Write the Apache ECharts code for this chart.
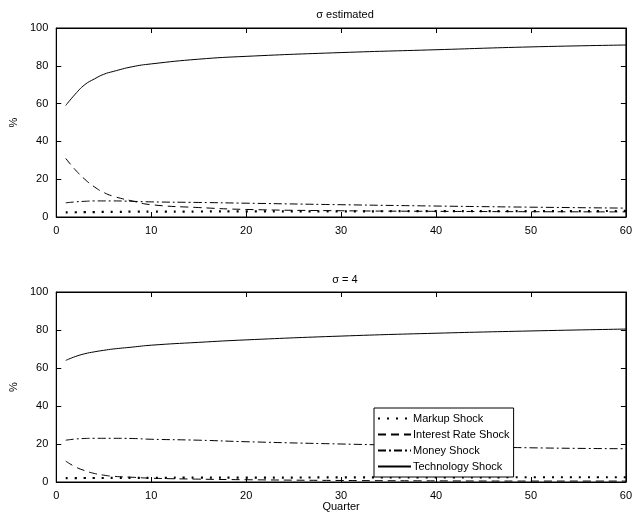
<!DOCTYPE html>
<html>
<head>
<meta charset="utf-8">
<script src="https://cdn.jsdelivr.net/npm/echarts@6/dist/echarts.min.js"></script>
<style>html,body{margin:0;padding:0;background:#fff}#c{width:635px;height:514px}</style>
</head>
<body>
<div id="c"></div>
<script>
var quarters = [1, 2, 3, 4, 5, 6, 8, 10, 15, 20, 30, 40, 50, 60];
var names = ["Markup Shock", "Interest Rate Shock", "Money Shock", "Technology Shock"];
// sigma estimated
var topMarkup = [2.5, 2.5, 2.6, 2.6, 2.7, 2.7, 2.8, 2.8, 2.9, 3.0, 3.0, 3.1, 3.1, 3.2];
var topInterest = [31, 25, 20, 16, 13, 11, 8.5, 6.5, 5, 4, 3.3, 3, 2.8, 2.7];
var topMoney = [7.5, 8, 8.3, 8.5, 8.5, 8.5, 8.3, 8, 7.7, 7.3, 6.5, 5.8, 5.2, 4.7];
var topTech = [59, 65, 70, 73, 75.5, 77, 79.5, 81, 83.5, 85, 87, 88.5, 90, 91];
// sigma = 4
var botMarkup = [2, 2, 2.1, 2.1, 2.1, 2.2, 2.2, 2.2, 2.3, 2.3, 2.4, 2.4, 2.5, 2.5];
var botInterest = [11, 8, 6, 4.5, 3.6, 3, 2.5, 2, 1.5, 1.2, 0.8, 0.6, 0.5, 0.5];
var botMoney = [22, 22.6, 22.9, 23, 23, 23, 22.9, 22.5, 22, 21.2, 20, 19, 18, 17.5];
var botTech = [64, 66, 67.5, 68.5, 69.3, 70, 71, 72, 73.5, 74.8, 76.8, 78.3, 79.5, 80.5];

var styles = [
  {type: [2, 7], width: 2.2},
  {type: [8, 5], width: 1},
  {type: [8, 3, 2, 3], width: 1},
  {type: 'solid', width: 1}
];
var font = 'Liberation Sans';

function pairs(v) { return v.map(function (y, i) { return [quarters[i], y]; }); }
function mk(name, vals, k, g) {
  var s = styles[k];
  return {
    name: name, type: 'line', xAxisIndex: g, yAxisIndex: g, data: pairs(vals),
    smooth: true, symbol: 'none', silent: true, animation: false,
    lineStyle: {color: '#000', width: s.width, type: s.type},
    itemStyle: {color: '#000'}
  };
}
var tick = {inside: true, length: 5, lineStyle: {color: '#000'}};
function xa(g, pos) {
  var lab = pos === 'bottom';
  return {gridIndex: g, type: 'value', min: 0, max: 60, interval: 10, position: pos,
    axisLine: {onZero: false, lineStyle: {color: '#000'}}, axisTick: tick,
    axisLabel: {show: lab, color: '#000', fontFamily: font, fontSize: 11}, splitLine: {show: false},
    name: (g === 1 && lab) ? 'Quarter' : '', nameLocation: 'middle', nameGap: 19,
    nameTextStyle: {color: '#000', fontFamily: font, fontSize: 11}};
}
function ya(g, pos) {
  var lab = pos === 'left';
  return {gridIndex: g, type: 'value', min: 0, max: 100, interval: 20, position: pos,
    axisLine: {onZero: false, lineStyle: {color: '#000'}}, axisTick: tick,
    axisLabel: {show: lab, color: '#000', fontFamily: font, fontSize: 11}, splitLine: {show: false},
    name: lab ? '%' : '', nameLocation: 'middle', nameGap: 32, nameRotate: 90,
    nameTextStyle: {color: '#000', fontFamily: font, fontSize: 11}};
}

var chart = echarts.init(document.getElementById('c'));
chart.setOption({
  backgroundColor: '#fff',
  title: [
    {text: 'σ estimated', left: 340, top: 4, textAlign: 'center', textStyle: {fontFamily: font, fontSize: 11, fontWeight: 'normal', color: '#000'}},
    {text: 'σ = 4', left: 340, top: 269, textAlign: 'center', textStyle: {fontFamily: font, fontSize: 11, fontWeight: 'normal', color: '#000'}}
  ],
  grid: [
    {left: 52, right: 7, top: 28, height: 189, show: true, borderColor: '#000', borderWidth: 1},
    {left: 52, right: 7, top: 292, height: 190, show: true, borderColor: '#000', borderWidth: 1}
  ],
  xAxis: [xa(0, 'bottom'), xa(1, 'bottom'), xa(0, 'top'), xa(1, 'top')],
  yAxis: [ya(0, 'left'), ya(1, 'left'), ya(0, 'right'), ya(1, 'right')],
  legend: {
    data: names, orient: 'vertical', left: 374, top: 408,
    backgroundColor: '#fff', borderColor: '#000', borderWidth: 1, borderRadius: 0,
    padding: [5, 4, 5, 3], itemGap: 5, itemWidth: 33, itemHeight: 11,
    itemStyle: {opacity: 0},
    textStyle: {fontFamily: font, fontSize: 11, color: '#000', padding: [0, 0, 0, -3]}, selectedMode: false
  },
  series: [
    mk(names[0], topMarkup, 0, 0), mk(names[1], topInterest, 1, 0),
    mk(names[2], topMoney, 2, 0), mk(names[3], topTech, 3, 0),
    mk(names[0], botMarkup, 0, 1), mk(names[1], botInterest, 1, 1),
    mk(names[2], botMoney, 2, 1), mk(names[3], botTech, 3, 1)
  ]
});
</script>
</body>
</html>
